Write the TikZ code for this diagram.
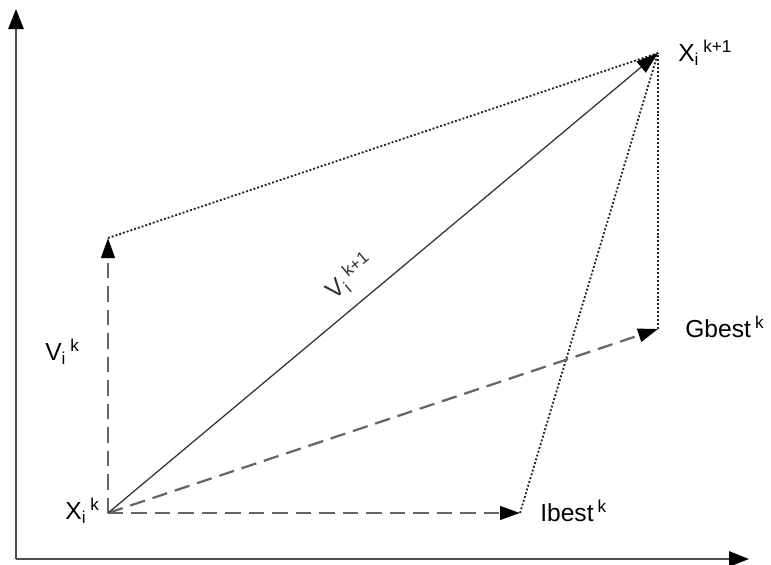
\documentclass[tikz,border=0pt]{standalone}
\usepackage{fontspec}
\setmainfont{Liberation Sans}
\usetikzlibrary{arrows.meta}

\begin{document}
\begin{tikzpicture}[
    axis/.style={-{Triangle[length=0.5cm, width=0.38cm, color=black]}, line width=1.6pt, black!70},
    vec/.style={-{Triangle[length=0.5cm, width=0.34cm, color=black]}, line width=1.6pt, black!60, dash pattern=on 11pt off 5.7pt},
    move/.style={-{Triangle[length=0.55cm, width=0.36cm, color=black]}, line width=0.9pt, black!80},
    guide/.style={line width=1.3pt, black!85, dash pattern=on 1.4pt off 1.4pt},
    lbl/.style={inner sep=0pt, font=\fontsize{17.5}{20}\selectfont}
]
    \useasboundingbox (-0.4,-0.125) rectangle (18.875,13.975);

    % points
    \coordinate (o) at (0,0);
    \coordinate (ytip) at (0,13.75);
    \coordinate (xtip) at (18.325,0);
    \coordinate (xk) at (2.3,1.15);
    \coordinate (vk) at (2.3,8.025);
    \coordinate (xk1) at (16.05,12.65);
    \coordinate (gbest) at (16.05,5.75);
    \coordinate (ibest) at (12.6,1.15);

    % axes
    \draw[axis] (o) -- (ytip);
    \draw[axis] (o) -- (xtip);

    % parallelogram guides
    \draw[guide] (vk) -- (xk1);
    \draw[guide] (gbest) -- (xk1);
    \draw[guide] (ibest) -- (xk1);

    % velocity components
    \draw[vec] (xk) -- (vk);
    \draw[vec] (xk) -- (ibest);
    \draw[vec] (xk) -- (gbest);
    \draw[move] (xk) -- node[lbl, pos=0.47, sloped, above=9pt] (lvk1) {V\textsubscript{i}\,\textsuperscript{k+1}} (xk1);

    % labels
    \node[lbl, anchor=base east] (lxk) at (2.1,1.0) {X\textsubscript{i}\,\textsuperscript{k}};
    \node[lbl, anchor=base west] (lxk1) at (16.55,12.45) {X\textsubscript{i}\,\textsuperscript{k+1}};
    \node[lbl, anchor=base west] (lvk) at (0.725,4.975) {V\textsubscript{i}\,\textsuperscript{k}};
    \node[lbl, anchor=base west] (lgbest) at (16.725,5.55) {Gbest\,\textsuperscript{k}};
    \node[lbl, anchor=base west] (libest) at (13.1,0.95) {Ibest\,\textsuperscript{k}};
\end{tikzpicture}
\end{document}
